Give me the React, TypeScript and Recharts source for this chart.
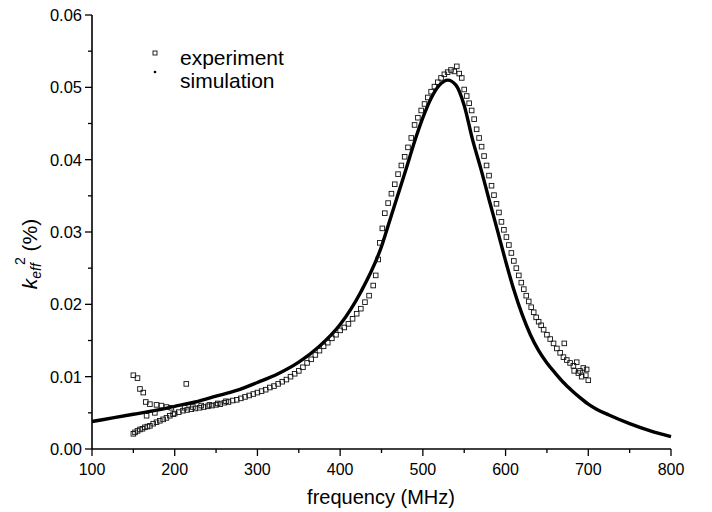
import React from 'react';
import { ComposedChart, Line, Scatter, XAxis, YAxis } from 'recharts';

// simulated k_eff^2 curve
const simFreq = [100, 125, 150, 175, 200, 225, 250, 275, 300, 325, 350, 375, 400, 425, 450, 460, 470, 480, 490, 500, 510, 520, 530, 540, 550, 560, 570, 580, 590, 600, 610, 620, 630, 640, 650, 660, 670, 680, 690, 700, 710, 725, 750, 775, 800];
const simVal = [0.0038, 0.0043, 0.0048, 0.0053, 0.0059, 0.0065, 0.0073, 0.0081, 0.0092, 0.0104, 0.012, 0.0142, 0.0172, 0.0217, 0.028, 0.0316, 0.0352, 0.0388, 0.0425, 0.0458, 0.0485, 0.0503, 0.051, 0.0503, 0.0475, 0.0428, 0.0388, 0.0345, 0.0303, 0.026, 0.022, 0.0186, 0.0158, 0.0136, 0.0119, 0.0105, 0.0092, 0.0081, 0.0071, 0.0062, 0.0055, 0.0047, 0.0035, 0.0025, 0.0017];

// measured points, [frequency, k2]
const expLowBranch = [
  [150, 0.0021], [152, 0.0023], [155, 0.0025], [158, 0.0027], [161, 0.0028], [164, 0.003], [167, 0.0031],
  [170, 0.0032], [174, 0.0035], [178, 0.0037], [182, 0.0039], [186, 0.0041], [190, 0.0043], [194, 0.0046], [198, 0.0048]
];
const expHighBranch = [
  [150, 0.0102], [155, 0.0098], [158, 0.0083], [162, 0.0078], [165, 0.0065], [166, 0.0046], [170, 0.0062],
  [176, 0.005], [178, 0.0061], [184, 0.006], [190, 0.0058], [196, 0.0057], [214, 0.009]
];
const expRise = [
  [200, 0.0049], [205, 0.0051], [210, 0.0053], [212, 0.0057], [215, 0.0054], [220, 0.0055], [222, 0.0058],
  [225, 0.0056], [230, 0.0057], [232, 0.006], [235, 0.0058], [240, 0.0059], [242, 0.0061], [245, 0.006],
  [250, 0.0061], [252, 0.0063], [255, 0.0062], [260, 0.0064], [262, 0.0066], [265, 0.0065], [270, 0.0067],
  [275, 0.0068], [280, 0.007], [285, 0.0072], [290, 0.0074], [295, 0.0076], [300, 0.0078], [305, 0.008],
  [310, 0.0082], [315, 0.0085], [320, 0.0087], [325, 0.009], [330, 0.0093], [335, 0.0096], [340, 0.01],
  [345, 0.0104], [350, 0.0108], [355, 0.0113], [360, 0.0119], [365, 0.0124], [370, 0.013], [375, 0.0136],
  [380, 0.0142], [385, 0.0147], [390, 0.0153], [395, 0.0158], [400, 0.0164], [405, 0.0168], [410, 0.0173],
  [415, 0.018], [420, 0.0187], [425, 0.0194], [430, 0.0203], [435, 0.0212], [440, 0.0226]
];
const expPeak = [
  [443, 0.024], [446, 0.0262], [448, 0.0285], [451, 0.0305], [454, 0.0326], [458, 0.034], [462, 0.0353],
  [466, 0.0366], [470, 0.038], [474, 0.0392], [478, 0.0404], [482, 0.0417], [486, 0.043], [490, 0.0448],
  [494, 0.0458], [498, 0.0468], [502, 0.0477], [506, 0.0486], [510, 0.0494], [514, 0.0501], [518, 0.0507],
  [522, 0.0513], [526, 0.0518], [530, 0.0521], [534, 0.0524], [538, 0.0522], [541, 0.0529], [544, 0.0519],
  [547, 0.0513], [550, 0.0497]
];
const expFall = [
  [553, 0.0488], [556, 0.0478], [559, 0.0468], [562, 0.0456], [565, 0.0442], [568, 0.043], [571, 0.0418],
  [574, 0.0405], [577, 0.0392], [580, 0.0378], [583, 0.0364], [586, 0.0351], [589, 0.0339], [592, 0.0327],
  [595, 0.0314], [598, 0.0303], [601, 0.0293], [604, 0.0282], [607, 0.0271], [610, 0.026], [613, 0.025],
  [616, 0.024], [619, 0.023], [622, 0.0221], [625, 0.0212], [628, 0.0204], [631, 0.0196], [634, 0.0189],
  [637, 0.0182], [640, 0.0176], [643, 0.0171], [646, 0.0165], [650, 0.0158], [654, 0.0152], [658, 0.0146],
  [662, 0.0139], [666, 0.0133], [670, 0.0127], [671, 0.0146], [674, 0.0123], [678, 0.0119], [682, 0.0115],
  [683, 0.0108], [686, 0.012], [688, 0.0105], [690, 0.0108], [692, 0.01], [694, 0.0112], [697, 0.0102],
  [698, 0.011], [700, 0.0095]
];

const xTicks = [100, 150, 200, 250, 300, 350, 400, 450, 500, 550, 600, 650, 700, 750, 800];
const yTicks = [0, 0.005, 0.01, 0.015, 0.02, 0.025, 0.03, 0.035, 0.04, 0.045, 0.05, 0.055, 0.06];

const simData = simFreq.map((f, i) => ({ f, v: simVal[i] }));
const expData = [...expLowBranch, ...expHighBranch, ...expRise, ...expPeak, ...expFall].map(([f, v]) => ({ f, v }));

const FONT = '"Liberation Sans", Arial, Helvetica, sans-serif';

const XTick = (props: any) => {
  const { x, y, payload } = props;
  const major = payload.value % 100 === 0;
  return (
    <g>
      <line x1={x} y1={y} x2={x} y2={y + (major ? 7 : 4)} stroke="#000" strokeWidth={1.3} />
      {major && (
        <text x={x} y={y + 26} textAnchor="middle" fontSize={16} fontFamily={FONT} fill="#000">
          {payload.value}
        </text>
      )}
    </g>
  );
};

const YTick = (props: any) => {
  const { x, y, payload } = props;
  const major = Math.round(payload.value * 1000) % 10 === 0;
  return (
    <g>
      <line x1={x} y1={y} x2={x - (major ? 7 : 4)} y2={y} stroke="#000" strokeWidth={1.3} />
      {major && (
        <text x={x - 10} y={y + 6} textAnchor="end" fontSize={16.5} fontFamily={FONT} fill="#000">
          {payload.value.toFixed(2)}
        </text>
      )}
    </g>
  );
};

const Square = (props: any) => {
  const { cx, cy } = props;
  return <rect x={cx - 2.3} y={cy - 2.3} width={4.6} height={4.6} fill="none" stroke="#111" strokeWidth={0.9} />;
};

const YTitle = () => (
  <text x={37} y={254} transform="rotate(-90 37 254)" textAnchor="middle" fontSize={21} fontFamily={FONT} fill="#000">
    <tspan fontStyle="italic">k</tspan>
    <tspan fontStyle="italic" fontSize={14} dy={4}>eff</tspan>
    <tspan fontSize={14} dx={-2} dy={-16}>2</tspan>
    <tspan dy={12}> (%)</tspan>
  </text>
);

const XTitle = () => (
  <text x={381} y={504} textAnchor="middle" fontSize={20} fontFamily={FONT} fill="#000">
    frequency (MHz)
  </text>
);

export default function App() {
  return (
    <div style={{ position: 'absolute', left: 0, top: 0, width: 712, height: 512, background: '#fff' }}>
      <ComposedChart width={712} height={512} margin={{ top: 15, right: 41, bottom: 0, left: 0 }}>
        <XAxis
          dataKey="f"
          type="number"
          domain={[100, 800]}
          ticks={xTicks}
          interval={0}
          tickSize={0}
          tickMargin={0}
          tick={<XTick />}
          height={63}
          axisLine={{ stroke: '#000', strokeWidth: 1.6 }}
          label={{ content: <XTitle /> }}
        />
        <YAxis
          type="number"
          domain={[0, 0.06]}
          ticks={yTicks}
          interval={0}
          tickSize={0}
          tickMargin={0}
          tick={<YTick />}
          width={92}
          axisLine={{ stroke: '#000', strokeWidth: 1.6 }}
          label={{ content: <YTitle /> }}
        />
        <Line
          data={simData}
          dataKey="v"
          type="monotone"
          stroke="#000"
          strokeWidth={3.4}
          dot={false}
          activeDot={false}
          isAnimationActive={false}
        />
        <Scatter data={expData} dataKey="v" shape={<Square />} isAnimationActive={false} />
      </ComposedChart>
      <svg width={712} height={512} style={{ position: 'absolute', left: 0, top: 0, pointerEvents: 'none' }}>
        <rect x={153} y={51} width={4} height={4} fill="none" stroke="#111" strokeWidth={0.9} />
        <text x={180} y={65} fontSize={21} fontFamily={FONT} fill="#000">experiment</text>
        <circle cx={155} cy={72} r={1.3} fill="#000" />
        <text x={180} y={88} fontSize={21} fontFamily={FONT} fill="#000">simulation</text>
      </svg>
    </div>
  );
}
